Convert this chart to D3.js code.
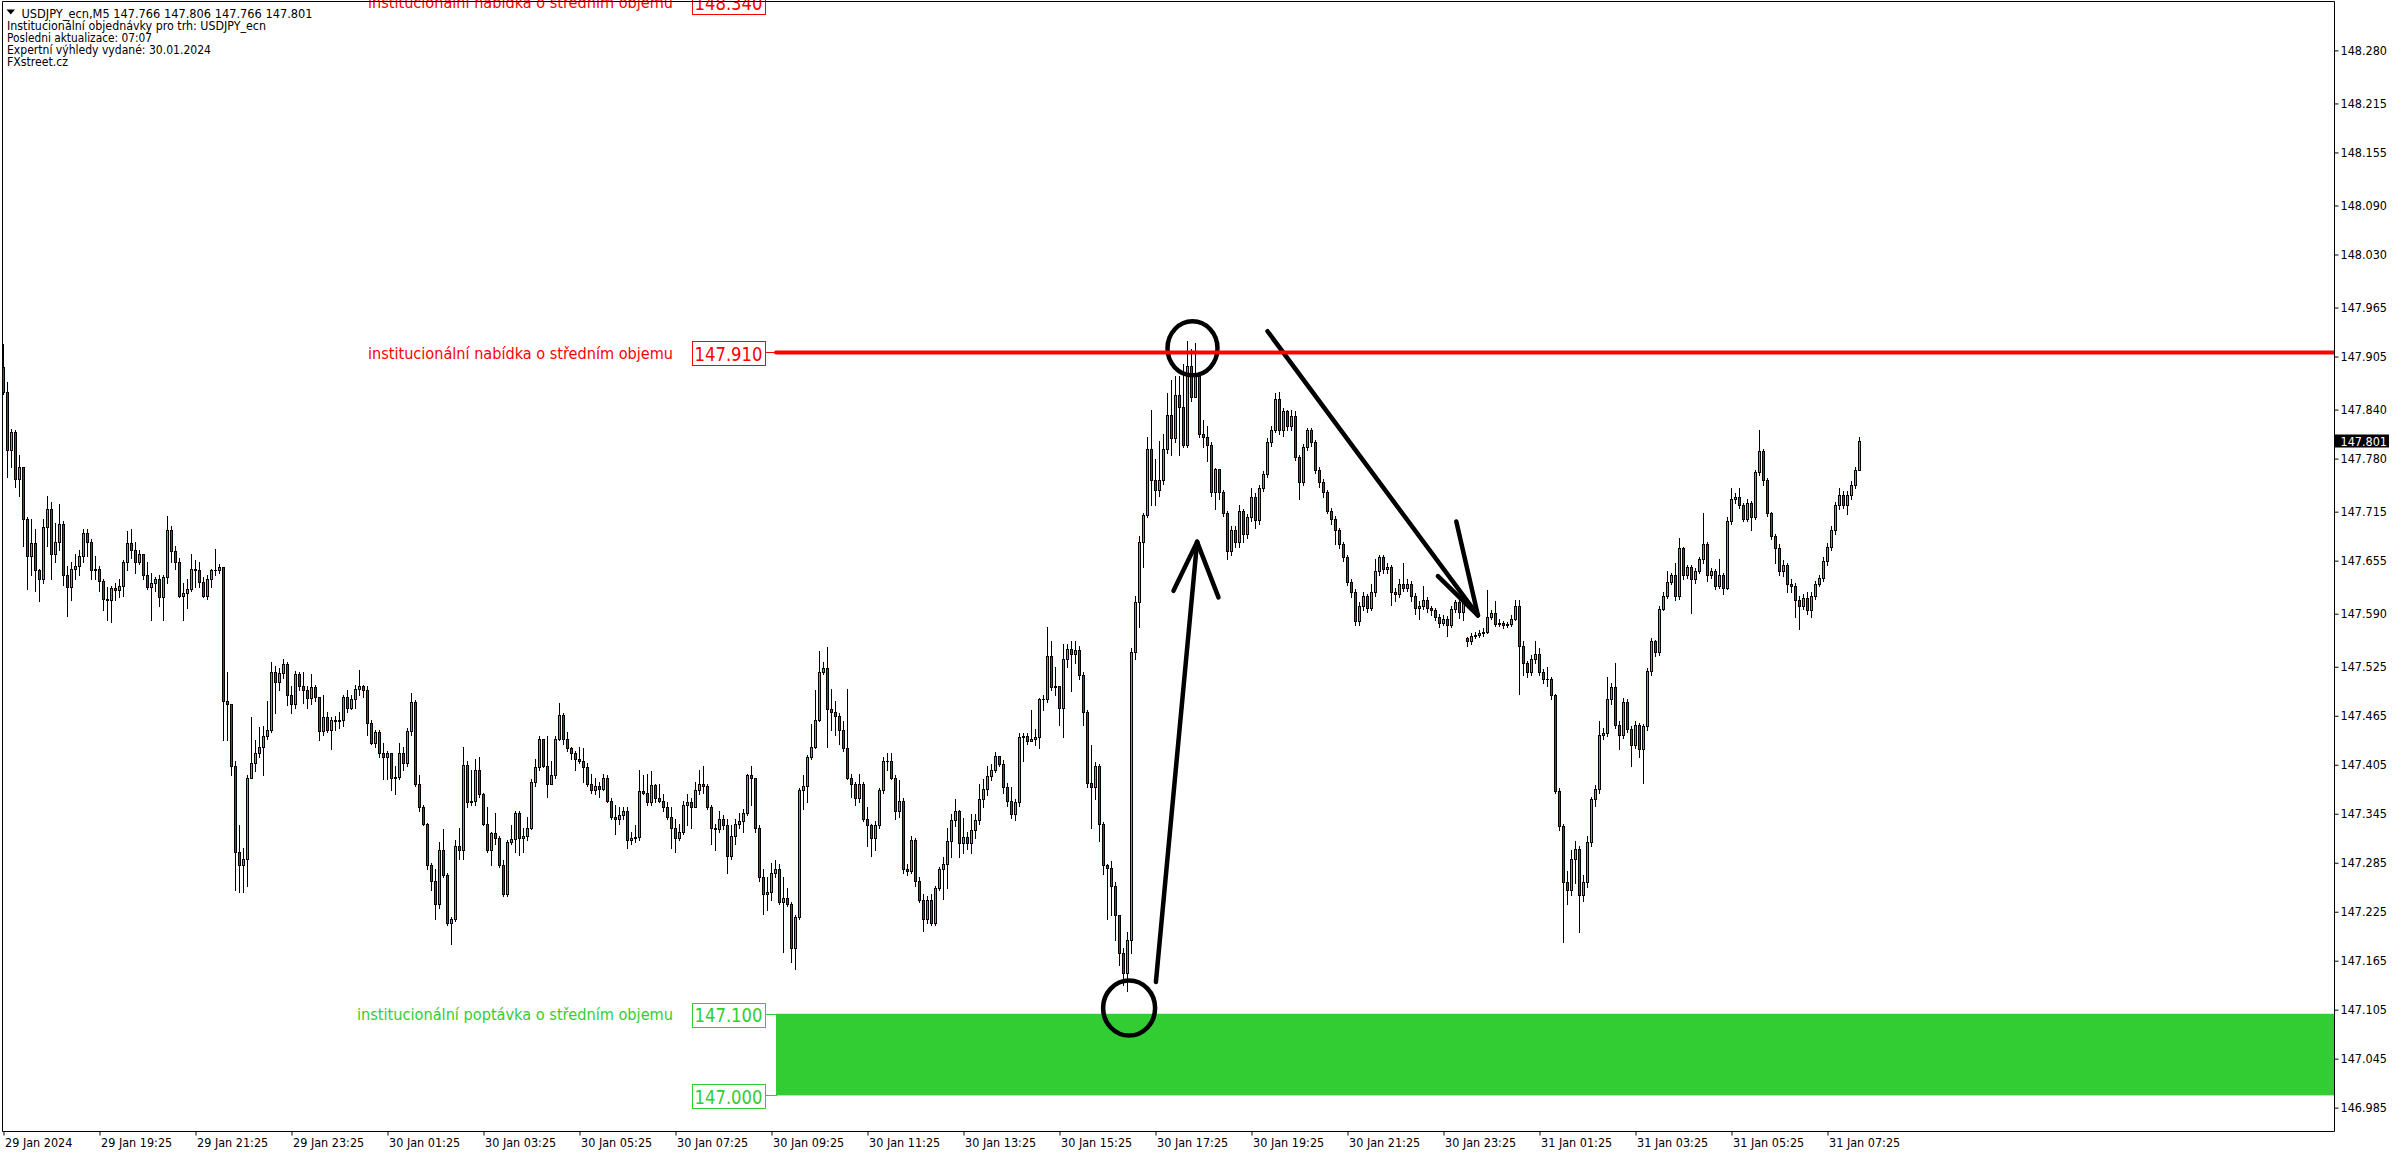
<!DOCTYPE html>
<html><head><meta charset="utf-8">
<script src="https://cdn.jsdelivr.net/npm/d3@7"></script>
<style>
body{margin:0;background:#fff;overflow:hidden}
svg{display:block}
text{font-family:"DejaVu Sans Condensed","DejaVu Sans",sans-serif;font-stretch:condensed}
</style>
</head><body>
<svg id="c" width="2396" height="1154"></svg>
<script>
// ---------------- DATA ----------------
const closes = [
147.861,147.790,147.813,147.755,147.770,147.706,147.661,147.676,147.643,147.633,
147.696,147.718,147.663,147.678,147.700,147.638,147.623,147.645,147.648,147.661,
147.689,147.678,147.643,147.645,147.630,147.608,147.607,147.622,147.619,147.624,
147.653,147.676,147.668,147.653,147.663,147.638,147.623,147.628,147.633,147.610,
147.635,147.692,147.667,147.653,147.612,147.615,147.620,147.645,147.643,147.629,
147.612,147.632,147.643,147.644,147.647,147.483,147.480,147.404,147.298,147.282,
147.290,147.389,147.407,147.420,147.427,147.440,147.447,147.519,147.506,147.517,
147.529,147.491,147.480,147.516,147.501,147.496,147.487,147.500,147.488,147.446,
147.463,147.447,147.460,147.458,147.460,147.488,147.475,147.486,147.498,147.501,
147.496,147.456,147.432,147.445,147.420,147.414,147.420,147.389,147.390,147.420,
147.407,147.446,147.482,147.381,147.353,147.333,147.282,147.262,147.234,147.300,
147.270,147.211,147.216,147.305,147.300,147.405,147.359,147.361,147.399,147.369,
147.333,147.300,147.321,147.315,147.282,147.247,147.310,147.314,147.346,147.315,
147.318,147.328,147.384,147.402,147.436,147.403,147.381,147.392,147.436,147.466,
147.437,147.425,147.420,147.412,147.409,147.402,147.381,147.374,147.379,147.375,
147.389,147.361,147.341,147.338,147.343,147.348,147.313,147.315,147.317,147.373,
147.371,147.359,147.380,147.364,147.361,147.353,147.341,147.328,147.315,147.323,
147.356,147.359,147.353,147.374,147.381,147.379,147.353,147.328,147.326,147.338,
147.331,147.293,147.318,147.333,147.336,147.346,147.392,147.389,147.328,147.267,
147.247,147.249,147.272,147.277,147.237,147.242,147.234,147.181,147.219,147.374,
147.379,147.414,147.427,147.460,147.519,147.524,147.473,147.470,147.465,147.447,
147.425,147.389,147.381,147.364,147.381,147.338,147.331,147.315,147.331,147.374,
147.409,147.410,147.389,147.348,147.361,147.277,147.275,147.313,147.262,147.239,
147.216,147.239,147.211,147.254,147.277,147.284,147.312,147.337,147.348,147.309,
147.317,147.309,147.325,147.337,147.363,147.375,147.391,147.398,147.416,147.406,
147.378,147.360,147.345,147.359,147.439,147.440,147.434,147.436,147.439,147.485,
147.485,147.538,147.500,147.502,147.475,147.535,147.547,147.541,147.546,147.515,
147.470,147.383,147.378,147.403,147.332,147.282,147.279,147.256,147.221,147.175,
147.150,147.190,147.543,147.604,147.678,147.711,147.792,147.754,147.742,147.754,
147.792,147.833,147.805,147.858,147.843,147.797,147.893,147.855,147.881,147.810,
147.807,147.797,147.739,147.767,147.739,147.713,147.667,147.693,147.678,147.716,
147.688,147.708,147.733,147.705,147.744,147.761,147.800,147.815,147.853,147.815,
147.838,147.820,147.832,147.782,147.751,147.794,147.815,147.800,147.766,147.751,
147.739,147.716,147.706,147.693,147.675,147.660,147.629,147.617,147.581,147.599,
147.612,147.597,147.617,147.642,147.660,147.645,147.647,147.617,147.614,147.627,
147.622,147.627,147.612,147.597,147.600,147.607,147.597,147.594,147.586,147.579,
147.584,147.576,147.596,147.604,147.592,147.605,147.557,147.563,147.564,147.566,
147.568,147.586,147.591,147.578,147.579,147.576,147.577,147.584,147.599,147.551,
147.530,147.518,147.535,147.541,147.518,147.510,147.510,147.490,147.373,147.330,
147.261,147.251,147.290,147.302,147.246,147.261,147.310,147.363,147.375,147.441,
147.444,147.485,147.500,147.454,147.441,147.482,147.449,147.429,147.454,147.424,
147.452,147.520,147.556,147.543,147.596,147.612,147.629,147.637,147.612,147.670,
147.637,147.647,147.632,147.642,147.657,147.675,147.637,147.642,147.624,147.637,
147.622,147.703,147.731,147.733,147.723,147.706,147.726,147.708,147.764,147.789,
147.754,147.713,147.685,147.670,147.642,147.650,147.627,147.624,147.607,147.600,
147.609,147.594,147.612,147.627,147.634,147.655,147.672,147.693,147.723,147.736,
147.723,147.736,147.748,147.766,147.801];
const highs = [
147.920,147.874,147.816,147.815,147.785,147.770,147.709,147.706,147.694,147.645,
147.706,147.734,147.727,147.701,147.724,147.704,147.648,147.653,147.663,147.668,
147.694,147.694,147.681,147.661,147.648,147.633,147.623,147.624,147.628,147.633,
147.656,147.691,147.694,147.678,147.668,147.663,147.653,147.640,147.635,147.638,
147.638,147.710,147.697,147.673,147.658,147.628,147.633,147.663,147.656,147.653,
147.635,147.638,147.645,147.669,147.651,147.645,147.519,147.475,147.410,147.331,
147.303,147.392,147.463,147.435,147.451,147.453,147.483,147.531,147.526,147.524,
147.534,147.531,147.501,147.520,147.519,147.519,147.501,147.516,147.503,147.486,
147.491,147.470,147.463,147.465,147.470,147.491,147.496,147.491,147.503,147.521,
147.503,147.502,147.460,147.447,147.447,147.432,147.422,147.412,147.404,147.432,
147.427,147.450,147.493,147.484,147.392,147.356,147.334,147.285,147.277,147.310,
147.326,147.272,147.219,147.313,147.328,147.427,147.409,147.399,147.412,147.414,
147.371,147.353,147.323,147.346,147.318,147.288,147.313,147.331,147.348,147.348,
147.328,147.341,147.387,147.412,147.440,147.437,147.440,147.409,147.440,147.481,
147.468,147.445,147.427,147.422,147.427,147.425,147.407,147.394,147.389,147.384,
147.394,147.392,147.364,147.356,147.353,147.353,147.353,147.323,147.331,147.399,
147.392,147.394,147.397,147.381,147.381,147.369,147.359,147.353,147.338,147.333,
147.361,147.369,147.364,147.384,147.399,147.404,147.381,147.356,147.333,147.348,
147.343,147.338,147.331,147.338,147.346,147.351,147.394,147.404,147.359,147.331,
147.277,147.267,147.285,147.288,147.283,147.267,147.254,147.237,147.221,147.376,
147.392,147.417,147.455,147.496,147.544,147.531,147.549,147.498,147.483,147.468,
147.458,147.498,147.394,147.384,147.394,147.384,147.353,147.333,147.336,147.376,
147.414,147.420,147.420,147.392,147.386,147.364,147.283,147.318,147.315,147.267,
147.247,147.244,147.247,147.257,147.280,147.292,147.327,147.345,147.363,147.350,
147.340,147.323,147.345,147.345,147.381,147.388,147.403,147.406,147.421,147.416,
147.411,147.383,147.378,147.363,147.444,147.444,147.444,147.472,147.449,147.487,
147.490,147.574,147.556,147.525,147.502,147.553,147.553,147.556,147.556,147.551,
147.518,147.472,147.429,147.408,147.406,147.335,147.284,147.287,147.261,147.218,
147.180,147.200,147.548,147.612,147.685,147.713,147.807,147.840,147.779,147.802,
147.810,147.860,147.876,147.881,147.881,147.896,147.924,147.914,147.921,147.886,
147.827,147.820,147.800,147.769,147.767,147.742,147.716,147.698,147.698,147.723,
147.718,147.712,147.744,147.738,147.748,147.765,147.805,147.820,147.860,147.861,
147.842,147.840,147.840,147.838,147.785,147.798,147.817,147.818,147.803,147.770,
147.755,147.742,147.720,147.710,147.695,147.678,147.662,147.632,147.620,147.604,
147.616,147.614,147.627,147.657,147.662,147.662,147.652,147.650,147.622,147.632,
147.652,147.632,147.630,147.615,147.605,147.624,147.610,147.600,147.597,147.590,
147.588,147.587,147.600,147.607,147.608,147.612,147.562,147.566,147.567,147.570,
147.572,147.619,147.595,147.606,147.583,147.581,147.580,147.588,147.607,147.607,
147.556,147.532,147.540,147.556,147.548,147.522,147.525,147.512,147.492,147.376,
147.332,147.275,147.300,147.312,147.305,147.270,147.318,147.366,147.380,147.458,
147.450,147.513,147.505,147.530,147.458,147.487,147.485,147.452,147.458,147.456,
147.455,147.524,147.560,147.558,147.600,147.616,147.642,147.640,147.652,147.683,
147.672,147.650,147.650,147.646,147.660,147.713,147.678,147.646,147.645,147.657,
147.640,147.708,147.744,147.738,147.744,147.726,147.730,147.728,147.766,147.815,
147.792,147.756,147.715,147.688,147.675,147.656,147.652,147.632,147.628,147.612,
147.614,147.617,147.616,147.630,147.638,147.659,147.676,147.697,147.727,147.744,
147.740,147.740,147.752,147.770,147.806];
const lows = [
147.859,147.757,147.770,147.745,147.734,147.673,147.620,147.638,147.618,147.605,
147.628,147.673,147.633,147.653,147.668,147.625,147.587,147.607,147.633,147.638,
147.653,147.661,147.633,147.633,147.618,147.595,147.582,147.580,147.607,147.610,
147.612,147.643,147.658,147.640,147.651,147.633,147.620,147.582,147.618,147.600,
147.582,147.628,147.653,147.645,147.610,147.582,147.597,147.618,147.623,147.623,
147.610,147.608,147.623,147.637,147.640,147.435,147.435,147.392,147.252,147.249,
147.249,147.257,147.389,147.397,147.414,147.392,147.437,147.445,147.468,147.496,
147.511,147.478,147.468,147.475,147.496,147.481,147.475,147.480,147.483,147.435,
147.442,147.445,147.424,147.447,147.450,147.452,147.470,147.473,147.475,147.491,
147.488,147.442,147.430,147.427,147.414,147.387,147.387,147.374,147.369,147.387,
147.399,147.404,147.442,147.379,147.348,147.331,147.277,147.252,147.216,147.229,
147.267,147.209,147.186,147.214,147.290,147.290,147.353,147.356,147.356,147.366,
147.331,147.298,147.282,147.308,147.280,147.244,147.244,147.308,147.298,147.295,
147.298,147.313,147.326,147.379,147.399,147.402,147.366,147.387,147.389,147.435,
147.430,147.422,147.412,147.399,147.407,147.384,147.379,147.371,147.369,147.366,
147.374,147.359,147.338,147.320,147.333,147.338,147.303,147.308,147.310,147.313,
147.369,147.356,147.356,147.359,147.359,147.348,147.338,147.303,147.298,147.313,
147.320,147.331,147.328,147.353,147.369,147.371,147.351,147.308,147.300,147.323,
147.326,147.272,147.290,147.308,147.328,147.323,147.343,147.356,147.323,147.262,
147.222,147.227,147.239,147.267,147.234,147.176,147.232,147.163,147.155,147.216,
147.351,147.359,147.412,147.425,147.458,147.516,147.427,147.447,147.442,147.430,
147.422,147.387,147.366,147.356,147.359,147.336,147.305,147.293,147.300,147.328,
147.371,147.399,147.387,147.338,147.341,147.272,147.270,147.272,147.257,147.237,
147.201,147.211,147.209,147.209,147.252,147.241,147.254,147.292,147.330,147.292,
147.297,147.302,147.297,147.315,147.332,147.353,147.368,147.386,147.396,147.403,
147.370,147.355,147.340,147.337,147.355,147.409,147.431,147.434,147.429,147.426,
147.472,147.482,147.497,147.490,147.454,147.439,147.525,147.495,147.530,147.510,
147.454,147.378,147.327,147.363,147.312,147.271,147.216,147.221,147.190,147.160,
147.135,147.128,147.175,147.535,147.574,147.647,147.708,147.723,147.723,147.734,
147.749,147.787,147.784,147.800,147.784,147.794,147.794,147.850,147.866,147.807,
147.794,147.777,147.734,147.718,147.730,147.710,147.657,147.662,147.672,147.672,
147.678,147.683,147.703,147.695,147.700,147.740,147.758,147.795,147.812,147.810,
147.808,147.815,147.815,147.778,147.731,147.748,147.790,147.795,147.762,147.745,
147.733,147.713,147.700,147.675,147.670,147.655,147.625,147.610,147.576,147.576,
147.595,147.592,147.594,147.612,147.638,147.640,147.640,147.601,147.605,147.610,
147.618,147.618,147.605,147.590,147.584,147.596,147.592,147.589,147.582,147.574,
147.576,147.563,147.574,147.592,147.585,147.582,147.550,147.553,147.560,147.561,
147.563,147.566,147.584,147.575,147.575,147.573,147.574,147.575,147.582,147.492,
147.515,147.512,147.515,147.530,147.515,147.505,147.502,147.486,147.370,147.325,
147.188,147.235,147.245,147.260,147.200,147.238,147.255,147.305,147.355,147.370,
147.436,147.440,147.480,147.450,147.424,147.438,147.445,147.403,147.425,147.414,
147.383,147.448,147.515,147.538,147.540,147.594,147.609,147.627,147.607,147.608,
147.632,147.634,147.591,147.628,147.640,147.652,147.630,147.634,147.620,147.622,
147.614,147.620,147.700,147.726,147.720,147.703,147.704,147.693,147.706,147.760,
147.748,147.710,147.682,147.652,147.638,147.636,147.617,147.617,147.586,147.571,
147.596,147.590,147.586,147.608,147.624,147.630,147.650,147.668,147.688,147.718,
147.719,147.712,147.730,147.744,147.766];
// bars whose open is not the previous close: [bar index, open]
const gapOpens = [[0,147.892],[366,147.560]];

const priceTickLabels = ["148.280","148.215","148.155","148.090","148.030","147.965","147.905","147.840",
 "147.780","147.715","147.655","147.590","147.525","147.465","147.405","147.345","147.285","147.225",
 "147.165","147.105","147.045","146.985"];
const timeTickLabels = ["29 Jan 2024","29 Jan 19:25","29 Jan 21:25","29 Jan 23:25","30 Jan 01:25",
 "30 Jan 03:25","30 Jan 05:25","30 Jan 07:25","30 Jan 09:25","30 Jan 11:25","30 Jan 13:25",
 "30 Jan 15:25","30 Jan 17:25","30 Jan 19:25","30 Jan 21:25","30 Jan 23:25","31 Jan 01:25",
 "31 Jan 03:25","31 Jan 05:25","31 Jan 07:25"];
const headerLines = ["USDJPY_ecn,M5  147.766 147.806 147.766 147.801",
 "Institucionální objednávky pro trh: USDJPY_ecn","Posledni aktualizace: 07:07",
 "Expertní výhledy vydané: 30.01.2024","FXstreet.cz"];
const supplyLevels = [148.340, 147.910];
const supplyLabel = "institucionální nabídka o středním objemu";
const demandZone = [147.100, 147.000];
const demandLabel = "institucionální poptávka o středním objemu";
const lastPrice = 147.801;
// hand-drawn annotations, as [bar index, price]
const circleMarks = [{at:[297.25,147.915], rx:25, ry:27}, {at:[281.4,147.107], rx:26, ry:27.5}];
const arrowMarks = [
 {from:[288.1,147.139], to:[298.4,147.678], wings:[[292.5,147.618],[303.75,147.610]]},
 {from:[316.0,147.936], to:[368.6,147.588], wings:[[358.6,147.636],[363.2,147.703]]}
];

// ---------------- LAYOUT ----------------
const W = 2396, H = 1154;
const pL = 2.5, pT = 1.5, pR = 2334.5, pB = 1131.5;
const RED = "#ff0000", GREEN = "#32cd32";
const svg = d3.select("#c");
const N = closes.length;
const t0 = Date.UTC(2024,0,29,17,25);
const STEP = 5*60*1000;
const barTime = i => new Date(t0 + i*STEP);

const x = d3.scaleUtc().domain([barTime(0), barTime(N-1)]).range([3.5, 3.5 + 4*(N-1)]);
const y = d3.scaleLinear().domain([146.9564, 148.3417]).range([1131, 0]);
const xi = i => x(new Date(t0 + i*STEP));

svg.append("rect").attr("width",W).attr("height",H).attr("fill","#fff");
const defs = svg.append("defs");
defs.append("clipPath").attr("id","plot")
  .append("rect").attr("x",pL).attr("y",pT).attr("width",pR-pL).attr("height",pB-pT);
defs.append("clipPath").attr("id","lines")
  .append("rect").attr("x",pL).attr("y",4).attr("width",pR-pL).attr("height",pB-4);
const plot = svg.append("g").attr("clip-path","url(#plot)");

// demand zone
const zx0 = 776;
plot.append("rect").attr("x",zx0).attr("width",pR-zx0)
  .attr("y",y(demandZone[0])).attr("height",y(demandZone[1])-y(demandZone[0])).attr("fill",GREEN);
// supply lines
const lg = svg.append("g").attr("clip-path","url(#lines)");
supplyLevels.forEach(p=>{
  lg.append("line").attr("x1",776).attr("x2",pR).attr("y1",y(p)).attr("y2",y(p))
    .attr("stroke",RED).attr("stroke-width",4).attr("stroke-linecap","round");
});

// candles
const gapMap = new Map(gapOpens);
const bars = closes.map((c,i)=>({i, c, h:highs[i], l:lows[i], o: gapMap.has(i)?gapMap.get(i):closes[i-1]}));
const cg = plot.append("g");
const cs = cg.selectAll("g").data(bars).join("g");
cs.append("line")
  .attr("x1",d=>xi(d.i)).attr("x2",d=>xi(d.i))
  .attr("y1",d=>Math.round(y(Math.max(d.h,d.o,d.c)))).attr("y2",d=>Math.round(y(Math.min(d.l,d.o,d.c)))+1)
  .attr("stroke","#000").attr("stroke-width",1);
cs.each(function(d){
  const g = d3.select(this);
  const yt = Math.round(y(Math.max(d.o,d.c))), yb = Math.round(y(Math.min(d.o,d.c)));
  const h = Math.max(1, yb-yt+1);
  g.append("rect").attr("x",xi(d.i)-1.5).attr("width",3).attr("y",yt).attr("height",h).attr("fill","#000");
  if (h > 2) g.append("rect").attr("x",xi(d.i)-0.5).attr("width",1).attr("y",yt+1).attr("height",h-2)
     .attr("fill", d.c>=d.o ? GREEN : RED);
});

// annotations
const ag = plot.append("g").attr("fill","none").attr("stroke","#000").attr("stroke-width",4.5)
  .attr("stroke-linecap","round");
circleMarks.forEach(m=>{
  ag.append("ellipse").attr("cx",xi(m.at[0])).attr("cy",y(m.at[1])).attr("rx",m.rx).attr("ry",m.ry);
});
arrowMarks.forEach(a=>{
  const P = q=>[xi(q[0]), y(q[1])];
  const f=P(a.from), t=P(a.to);
  ag.append("line").attr("x1",f[0]).attr("y1",f[1]).attr("x2",t[0]).attr("y2",t[1]);
  a.wings.forEach(w=>{ const q=P(w);
    ag.append("line").attr("x1",q[0]).attr("y1",q[1]).attr("x2",t[0]).attr("y2",t[1]); });
});

// level labels
function levelLabel(p, text, color, withText, textX, textLen){
  const yy = y(p);
  if (withText) svg.append("text").attr("x",textX).attr("y",yy+6.5).attr("fill",color)
     .attr("font-size",16).attr("textLength",textLen).attr("lengthAdjust","spacingAndGlyphs").text(text);
  svg.append("rect").attr("x",692.5).attr("y",Math.round(yy)-10.5).attr("width",73).attr("height",24)
     .attr("fill","#fff").attr("stroke",color).attr("stroke-width",1);
  svg.append("text").attr("x",694.5).attr("y",yy+8.5).attr("fill",color).attr("font-size",19)
     .attr("textLength",68).attr("lengthAdjust","spacingAndGlyphs").text(p.toFixed(3));
  svg.append("line").attr("x1",765.5).attr("x2",777).attr("y1",Math.round(yy)+0.5).attr("y2",Math.round(yy)+0.5)
     .attr("stroke",color).attr("stroke-width",1);
}
supplyLevels.forEach(p=>levelLabel(p, supplyLabel, RED, true, 368, 305));
levelLabel(demandZone[0], demandLabel, GREEN, true, 357, 316);
levelLabel(demandZone[1], demandLabel, GREEN, false);

// frame
svg.append("path").attr("d",`M${pL},${pB}V${pT}H${pR}V${pB}H${pL}`)
  .attr("fill","none").attr("stroke","#000").attr("stroke-width",1);

// right price axis
const yAxis = d3.axisRight(y).tickValues(priceTickLabels.map(Number))
  .tickFormat((d,i)=>priceTickLabels[i]).tickSize(4).tickSizeOuter(0).tickPadding(2);
const ya = svg.append("g").attr("transform",`translate(${pR},0)`).call(yAxis);
ya.select(".domain").remove();
ya.selectAll("text").attr("font-size",12.5).attr("fill","#000")
  .attr("font-family",'"DejaVu Sans Condensed","DejaVu Sans",sans-serif');
ya.selectAll("line").attr("stroke","#000");

// last price tag
svg.append("rect").attr("x",pR+0.5).attr("y",Math.round(y(lastPrice))-6.5).attr("width",54).attr("height",13).attr("fill","#000");
svg.append("text").attr("x",pR+6).attr("y",y(lastPrice)+4.5).attr("fill","#fff").attr("font-size",12.5).text(lastPrice.toFixed(3));

// bottom time axis
const xAxis = d3.axisBottom(x).tickValues(timeTickLabels.map((s,k)=>barTime(k*24)))
  .tickFormat((d,i)=>timeTickLabels[i]).tickSize(4).tickSizeOuter(0).tickPadding(3);
const xa = svg.append("g").attr("transform",`translate(0,${pB})`).call(xAxis);
xa.select(".domain").remove();
xa.selectAll("text").attr("text-anchor","start").attr("x",1).attr("font-size",12.5).attr("fill","#000")
  .attr("font-family",'"DejaVu Sans Condensed","DejaVu Sans",sans-serif');
xa.selectAll("line").attr("stroke","#000");

// header
svg.append("path").attr("d","M6.5,9.5H15L10.75,14.5Z").attr("fill","#000");
const hdr = [{y:17.5,fs:13,x:21.5,len:291},{y:29.8,fs:12,x:7,len:259},{y:41.5,fs:12,x:7,len:145},
             {y:53.5,fs:12,x:7,len:204},{y:65.5,fs:12,x:7,len:61}];
headerLines.forEach((t,k)=>{
  svg.append("text").attr("x",hdr[k].x).attr("y",hdr[k].y).attr("font-size",hdr[k].fs).attr("fill","#000")
    .attr("textLength",hdr[k].len).attr("lengthAdjust","spacingAndGlyphs").text(t);
});
</script>
</body></html>
